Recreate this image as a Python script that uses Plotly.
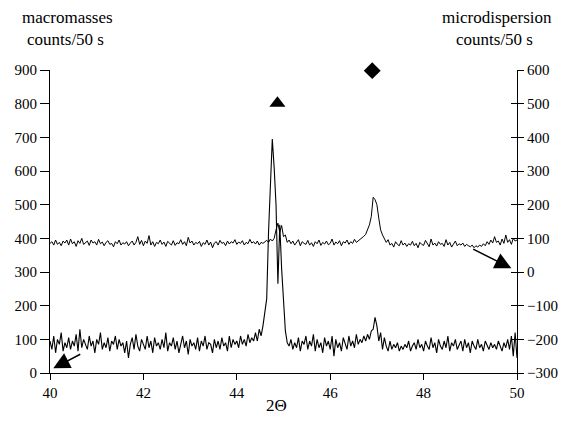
import plotly.graph_objects as go

# 2-theta grid: 40.00 .. 50.00 in steps of 0.04 (251 positions)
x_start = 40.0
x_step = 0.04
n_points = 251
two_theta = [round(x_start + x_step * i, 2) for i in range(n_points)]

# macromasses, counts/50 s (left axis)
macro_counts = [
    95, 70, 110, 60, 100, 85, 120, 65, 90, 75,
    105, 70, 95, 80, 115, 65, 130, 75, 100, 85,
    70, 110, 80, 95, 60, 100, 85, 120, 70, 90,
    75, 105, 65, 95, 85, 110, 70, 100, 80, 90,
    60, 95, 45, 85, 105, 70, 115, 80, 65, 100,
    85, 70, 110, 75, 95, 60, 105, 80, 90, 70,
    100, 75, 120, 65, 90, 80, 105, 70, 95, 60,
    85, 110, 75, 95, 55, 100, 80, 90, 70, 105,
    65, 95, 80, 110, 70, 90, 85, 60, 100, 75,
    95, 70, 105, 80, 90, 65, 110, 75, 100, 85,
    95, 75, 110, 85, 100, 80, 115, 90, 105, 95,
    120, 95, 130,
    110, 140, 190, 220, 420, 540, 695, 610, 500, 265, 440, 310, 200, 125, 90,
    80, 100, 70, 90, 75, 105, 65, 95, 85, 110,
    70, 95, 80, 115, 65, 100, 75, 90, 60, 105,
    80, 95, 70, 110, 50, 100, 75, 90, 65, 105,
    85, 70, 110, 80, 95, 75, 115, 85, 100, 90,
    110, 95,
    115, 100, 125, 130, 165, 140, 95, 120, 70, 105,
    80, 65, 95, 70, 85, 75, 90, 65, 80, 70,
    85, 75, 95, 65, 80, 90, 70, 100, 75, 85,
    65, 95, 80, 70, 105, 75, 90, 60, 100, 80,
    70, 95, 75, 110, 65, 90, 80, 100, 70, 85,
    95, 65, 100, 75, 90, 60, 95, 80, 70, 100,
    75, 85, 65, 95, 80, 70, 90, 75, 85, 70,
    95, 80, 65, 90, 75, 100, 70, 110, 50, 120,
    45,
]

# microdispersion, counts/50 s (right axis)
micro_counts = [
    85, 90, 80, 95, 82, 88, 78, 92, 86, 95,
    80, 98, 84, 90, 76, 93, 85, 100, 82, 88,
    92, 79, 95, 86, 90, 80, 97, 84, 89, 78,
    88, 93, 82, 85, 75, 90, 84, 95, 80, 87,
    83, 90, 78, 86, 92, 80, 88, 105, 82, 94,
    78, 92, 85, 108, 80, 90, 76, 88, 84, 95,
    82, 89, 76, 91, 85, 80, 93, 79, 87, 84,
    96, 82, 90, 78, 103, 86, 92, 80, 88, 84,
    91, 76, 87, 82, 95, 80, 89, 72, 86, 90,
    80, 94, 85, 88, 78, 92, 83, 90, 86, 96,
    82, 89, 85, 93, 80, 88, 84, 97, 86, 90,
    83, 92, 80, 88, 85, 90, 94, 88, 98, 92,
    100, 125, 145, 118, 138, 105, 110, 88, 95, 84,
    92, 80, 88, 96, 78, 90, 85, 82, 94, 80,
    87, 76, 90, 84, 95, 79, 88, 83, 92, 81,
    85, 98, 80, 89, 84, 93, 78, 90, 86, 95,
    82, 90, 85, 97, 88, 92, 96, 100, 106, 112,
    125, 140, 165, 222, 215, 200, 160, 125, 110, 100,
    88, 96, 80, 85, 74, 90, 82, 78, 93, 80,
    86, 76, 84, 80, 91, 78, 85, 72, 88, 82,
    79, 94, 83, 75, 98, 80, 86, 77, 90, 82,
    85, 76, 96, 80, 88, 74, 83, 92, 78, 84,
    80, 86, 76, 82, 78, 75, 80, 72, 78, 74,
    80, 76, 84, 78, 90, 82, 95, 86, 105, 88,
    92, 80, 98, 85, 110, 88, 96, 82, 100, 92,
    95,
]

# peak markers
triangle_pos = [44.87]
triangle_val = [801]      # left axis
diamond_pos = [46.90]
diamond_val = [598]       # right axis

x_ticks = [40, 42, 44, 46, 48, 50]
left_range = [0, 900]
right_range = [-300, 600]

SERIF = "Liberation Serif"

fig = go.Figure()
fig.add_trace(go.Scatter(x=two_theta, y=macro_counts, mode="lines",
                         line=dict(color="black", width=1.1), yaxis="y",
                         showlegend=False, hoverinfo="skip"))
fig.add_trace(go.Scatter(x=two_theta, y=micro_counts, mode="lines",
                         line=dict(color="black", width=1), yaxis="y2",
                         showlegend=False, hoverinfo="skip"))
fig.add_trace(go.Scatter(x=triangle_pos, y=triangle_val, mode="markers",
                         marker=dict(symbol="triangle-up", size=14, color="black"),
                         yaxis="y", showlegend=False, hoverinfo="skip",
                         cliponaxis=False))
fig.add_trace(go.Scatter(x=diamond_pos, y=diamond_val, mode="markers",
                         marker=dict(symbol="diamond", size=13, color="black"),
                         yaxis="y2", showlegend=False, hoverinfo="skip",
                         cliponaxis=False))
# dummy trace to activate yaxis3 (inside ticks for crossing tick marks)
fig.add_trace(go.Scatter(x=[None], y=[None], yaxis="y3", showlegend=False,
                         hoverinfo="skip"))

# page body has an 8px margin, so the figure is sized/placed to compensate
fig.update_layout(
    template="none",
    width=560, height=422,
    margin=dict(l=42, r=51, t=62, b=57),
    paper_bgcolor="white", plot_bgcolor="white",
    font=dict(family=SERIF, size=15, color="black"),
    xaxis=dict(range=[40, 50], tickvals=x_ticks, ticks="outside", ticklen=6,
               tickcolor="black", showline=True, linecolor="black", linewidth=1,
               showgrid=False, zeroline=False, automargin=False,
               tickfont=dict(size=15, family=SERIF)),
    yaxis=dict(range=left_range, dtick=100, ticks="outside", ticklen=9,
               tickcolor="black", showline=True, linecolor="black", linewidth=1,
               showgrid=False, zeroline=False, automargin=False,
               tickfont=dict(size=15, family=SERIF)),
    yaxis2=dict(range=right_range, dtick=100, overlaying="y", side="right",
                ticks="outside", ticklen=6, tickcolor="black", showline=True,
                linecolor="black", linewidth=1, showgrid=False, zeroline=False,
                automargin=False, tickfont=dict(size=15, family=SERIF)),
    yaxis3=dict(range=right_range, dtick=100, overlaying="y", side="right",
                ticks="inside", ticklen=6, tickcolor="black", showline=False,
                showticklabels=False, showgrid=False, zeroline=False,
                automargin=False),
)

# axis titles (each line placed separately)
title_font = dict(family=SERIF, size=17, color="black")
for txt, xp, yp in [("macromasses", 0.037, 1.172),
                    ("counts/50 s", 0.033, 1.102),
                    ("microdispersion", 0.958, 1.172),
                    ("counts/50 s", 0.952, 1.102)]:
    fig.add_annotation(text=txt, xref="paper", yref="paper", x=xp, y=yp,
                       xanchor="center", yanchor="middle", showarrow=False,
                       font=title_font)
fig.add_annotation(text="2\u0398", xref="paper", yref="paper",
                   x=0.484, y=-0.106, xanchor="center", yanchor="middle",
                   showarrow=False, font=dict(family=SERIF, size=17, color="black"))

# arrows pointing series to their axis
fig.add_annotation(x=40.07, y=14, xref="x", yref="y", ax=40.68, ay=58,
                   axref="x", ayref="y", showarrow=True, arrowhead=2,
                   arrowsize=2.2, arrowwidth=1.5, arrowcolor="black", text="")
fig.add_annotation(x=49.88, y=11, xref="x", yref="y2", ax=49.03, ay=70,
                   axref="x", ayref="y2", showarrow=True, arrowhead=2,
                   arrowsize=2.2, arrowwidth=1.5, arrowcolor="black", text="")

fig.write_html("out.html")
